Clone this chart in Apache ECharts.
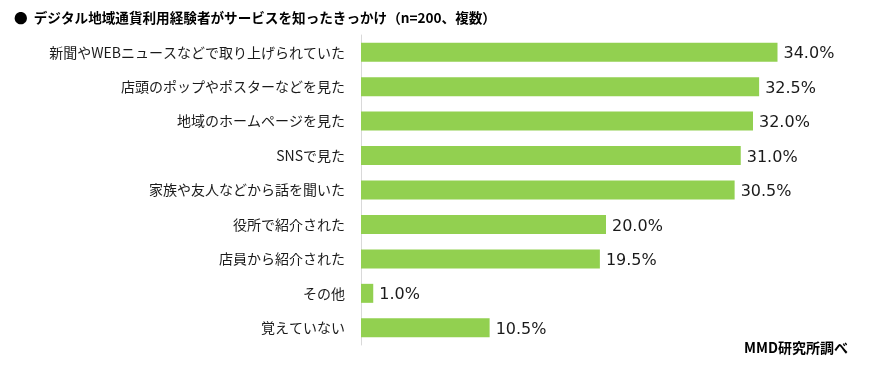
<!DOCTYPE html>
<html><head><meta charset="utf-8">
<script src="https://cdn.jsdelivr.net/npm/echarts@6/dist/echarts.min.js"></script>
<style>html,body{margin:0;padding:0;background:#fff}#c{width:873px;height:366px}</style>
</head><body><div id="c"></div>
<script>
const categories = ["新聞やWEBニュースなどで取り上げられていた","店頭のポップやポスターなどを見た","地域のホームページを見た","SNSで見た","家族や友人などから話を聞いた","役所で紹介された","店員から紹介された","その他","覚えていない"];
const values = [34.0, 32.5, 32.0, 31.0, 30.5, 20.0, 19.5, 1.0, 10.5];
const titleText = "●  デジタル地域通貨利用経験者がサービスを知ったきっかけ（n=200、複数）";
const sourceText = "MMD研究所調べ";
const FONT = '"Noto Sans CJK JP", sans-serif';
const chart = echarts.init(document.getElementById('c'));
chart.setOption({
  animation: false,
  textStyle: {fontFamily: FONT},
  title: [
    {text: titleText, left: 9, top: 6, textStyle: {fontFamily: FONT, fontSize: 13.6, fontWeight: 'bold', color: '#000'}},
    {text: sourceText, right: 20, bottom: 6, textStyle: {fontFamily: FONT, fontSize: 14, fontWeight: 'bold', color: '#000'}}
  ],
  grid: {left: 361, right: 22, top: 35, bottom: 21, containLabel: false},
  xAxis: {type: 'value', min: 0, max: 40, show: false},
  yAxis: {
    type: 'category', data: categories, inverse: true,
    axisLine: {show: true, lineStyle: {color: '#d9d9d9', width: 1}},
    axisTick: {show: false},
    axisLabel: {color: '#1a1a1a', fontSize: 14, margin: 16, fontFamily: FONT}
  },
  series: [{
    type: 'bar', data: values, barWidth: 19,
    itemStyle: {color: '#92D050'},
    label: {show: true, position: 'right', distance: 6, offset: [0, 2], color: '#1a1a1a', fontSize: 16, fontFamily: '"DejaVu Sans", sans-serif',
      formatter: p => p.value.toFixed(1) + '%'}
  }]
});
</script></body></html>
